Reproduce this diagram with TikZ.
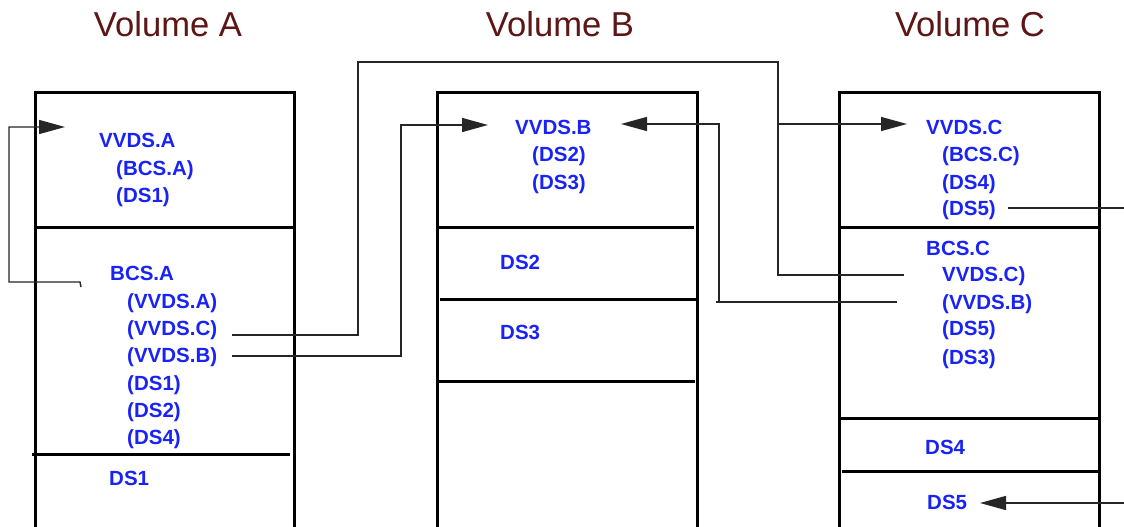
\documentclass[tikz,border=0pt]{standalone}
\usepackage{fontspec}
\setmainfont{Liberation Sans}
\usetikzlibrary{arrows.meta}
\definecolor{lblblue}{RGB}{25,35,245}
\definecolor{titlered}{RGB}{92,22,22}
\begin{document}
\begin{tikzpicture}[x=1pt,y=-1pt,
  lbl/.style={font=\fontsize{20.5}{24}\selectfont\bfseries, text=lblblue, anchor=west, inner sep=0pt, text height=14pt, text depth=4pt, yshift=-2pt},
  ttl/.style={font=\fontsize{34.6}{40}\selectfont, text=titlered, inner sep=0pt, anchor=base},
  boxline/.style={line width=3pt},
  conn/.style={line width=1.4pt, black!85},
  arr/.style={-{Triangle[length=26pt,width=14pt]}}]
\useasboundingbox (0,0) rectangle (1124,527);
\clip (0,0) rectangle (1124,527);
\fill[white] (0,0) rectangle (1124,527);

% titles
\node[ttl] (tA) at (168,37) {Volume A};
\node[ttl] (tB) at (560,37) {Volume B};
\node[ttl] (tC) at (970,37) {Volume C};

% volume boxes
\draw[boxline] (35,560) -- (35,92) -- (294,92) -- (294,560);
\draw[boxline] (35,227) -- (294,227);
\draw[boxline] (32,454) -- (290,454);

\draw[boxline] (437,560) -- (437,92) -- (697,92) -- (697,560);
\draw[boxline] (437,227) -- (694,227);
\draw[boxline] (440,299) -- (697,299);
\draw[boxline] (437,381) -- (695,381);

\draw[boxline] (839,560) -- (839,92) -- (1099,92) -- (1099,560);
\draw[boxline] (839,227) -- (1099,227);
\draw[boxline] (839,418) -- (1099,418);
\draw[boxline] (842,471) -- (1101,471);

% Volume A texts
\node[lbl] (aVVDS) at (99,140) {VVDS.A};
\node[lbl] (aVbcs) at (116,168) {(BCS.A)};
\node[lbl] (aVds1) at (116,195) {(DS1)};
\node[lbl] (aBCS) at (110,273) {BCS.A};
\node[lbl] (aBva) at (127,301) {(VVDS.A)};
\node[lbl] (aBvc) at (127,328) {(VVDS.C)};
\node[lbl] (aBvb) at (127,355) {(VVDS.B)};
\node[lbl] (aBds1) at (127,383) {(DS1)};
\node[lbl] (aBds2) at (127,410) {(DS2)};
\node[lbl] (aBds4) at (127,437) {(DS4)};
\node[lbl] (aDS1) at (109,478) {DS1};

% Volume B texts
\node[lbl] (bVVDS) at (515,127) {VVDS.B};
\node[lbl] (bVds2) at (532,154) {(DS2)};
\node[lbl] (bVds3) at (532,182) {(DS3)};
\node[lbl] (bDS2) at (500,262) {DS2};
\node[lbl] (bDS3) at (500,332) {DS3};

% Volume C texts
\node[lbl] (cVVDS) at (926,127) {VVDS.C};
\node[lbl] (cVbcs) at (942,154) {(BCS.C)};
\node[lbl] (cVds4) at (942,182) {(DS4)};
\node[lbl] (cVds5) at (942,208) {(DS5)};
\node[lbl] (cBCS) at (926,248) {BCS.C};
\node[lbl] (cBvc) at (942,274) {VVDS.C)};
\node[lbl] (cBvb) at (942,302) {(VVDS.B)};
\node[lbl] (cBds5) at (942,328) {(DS5)};
\node[lbl] (cBds3) at (942,357) {(DS3)};
\node[lbl] (cDS4) at (925,447) {DS4};
\node[lbl] (cDS5) at (927,502) {DS5};

% connector end points
\coordinate (aLoopOut) at (81,287);
\coordinate (aLoopIn) at (65,127);
\coordinate (aVCout) at (232,335);
\coordinate (aVBout) at (232,356);
\coordinate (bVVDSinL) at (488,125);
\coordinate (bVVDSinR) at (621,124);
\coordinate (cVVDSin) at (907,124);
\coordinate (cVCout) at (904,275);
\coordinate (cVBout) at (897,302);
\coordinate (cDS5out) at (1008,208);
\coordinate (cDS5edge) at (1126,208);
\coordinate (cDS5in) at (980,503);
\coordinate (cDS5edge2) at (1126,503);

% connectors
\draw[conn,arr] (aLoopOut) -- (80,282) -- (9,282) -- (9,127) -- (aLoopIn);
\draw[conn,arr] (aVCout) -- (358,335) -- (358,62) -- (778,62) -- (778,124) -- (cVVDSin);
\draw[conn] (cVCout) -- (778,275) -- (778,124);
\draw[conn,arr] (aVBout) -- (401,356) -- (401,125) -- (bVVDSinL);
\draw[conn,arr] (cVBout) -- (716,302) -- (719,302) -- (719,124) -- (bVVDSinR);
\draw[conn] (cDS5out) -- (cDS5edge);
\draw[conn,arr] (cDS5edge2) -- (cDS5in);
\end{tikzpicture}
\end{document}
